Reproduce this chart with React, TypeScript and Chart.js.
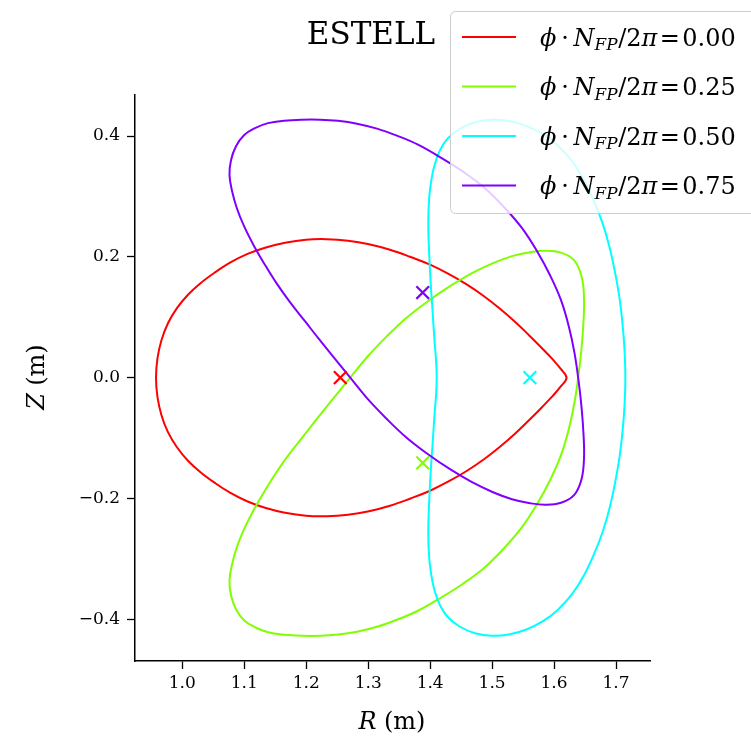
import { useEffect, useRef } from "react";
import { Chart, registerables } from "chart.js";

Chart.register(...registerables);

// Boundary cross-sections of ESTELL at four toroidal angles (R, Z in metres)
const PHASE_LABELS = ["0.00", "0.25", "0.50", "0.75"];
const PHASE_COLORS = ["#ff0000", "#80ff00", "#00ffff", "#8000ff"];

// ϕ·N_FP/2π = 0.00 (up-down symmetric, pointed on the outboard side)
const R_000 = [0.9576, 0.96, 0.9664, 0.9769, 0.9914, 1.0092, 1.0294, 1.052, 1.077, 1.1044, 1.1335, 1.1658, 1.1996, 1.2335,
  1.2674, 1.3013, 1.3352, 1.3674, 1.3998, 1.4304, 1.4595, 1.4869, 1.5127, 1.5369, 1.5595, 1.5805, 1.5982, 1.6111, 1.6201,
  1.6111, 1.5982, 1.5805, 1.5595, 1.5369, 1.5127, 1.4869, 1.4595, 1.4304, 1.3998, 1.3674, 1.3352, 1.3013, 1.2674, 1.2335,
  1.1996, 1.1658, 1.1335, 1.1044, 1.077, 1.052, 1.0294, 1.0092, 0.9914, 0.9769, 0.9664, 0.96];
const Z_000 = [0.0, 0.0323, 0.0621, 0.0902, 0.1151, 0.1374, 0.1565, 0.1738, 0.1904, 0.2045, 0.2152, 0.2235, 0.2285, 0.2293,
  0.2268, 0.221, 0.2119, 0.2003, 0.1871, 0.1714, 0.154, 0.1349, 0.1142, 0.0927, 0.0704, 0.0488, 0.0298, 0.0141, 0.0,
  -0.0141, -0.0298, -0.0488, -0.0704, -0.0927, -0.1142, -0.1349, -0.154, -0.1714, -0.1871, -0.2003, -0.2119, -0.221, -0.2268, -0.2293,
  -0.2285, -0.2235, -0.2152, -0.2045, -0.1904, -0.1738, -0.1565, -0.1374, -0.1151, -0.0902, -0.0621, -0.0323];

// ϕ·N_FP/2π = 0.25
const R_025 = [1.0762, 1.0786, 1.0867, 1.0996, 1.1173, 1.1383, 1.1641, 1.1932, 1.2222, 1.2513, 1.2819, 1.3142, 1.3464,
  1.3804, 1.4159, 1.453, 1.4885, 1.5208, 1.5483, 1.5725, 1.5935, 1.6112, 1.6241, 1.633, 1.6394, 1.6443, 1.6475, 1.6483,
  1.6443, 1.6322, 1.6112, 1.587, 1.5612, 1.5321, 1.5015, 1.4676, 1.4321, 1.3966, 1.3611, 1.3288, 1.2981, 1.2691, 1.2448,
  1.2214, 1.198, 1.1738, 1.152, 1.1328, 1.1151, 1.0997, 1.0881, 1.0804];
const Z_025 = [-0.3353, -0.3601, -0.3833, -0.4015, -0.4131, -0.4214, -0.4255, -0.4272, -0.4272, -0.4252, -0.4205, -0.4123, -0.4007,
  -0.3858, -0.3651, -0.3411, -0.3137, -0.2806, -0.2475, -0.2094, -0.1697, -0.1283, -0.0836, -0.0406, 0.0041, 0.0488, 0.0935, 0.1333,
  0.168, 0.1945, 0.207, 0.2103, 0.2078, 0.2012, 0.1896, 0.173, 0.1515, 0.1267, 0.0985, 0.0671, 0.0339, -0.0025, -0.0331,
  -0.0629, -0.0935, -0.125, -0.1565, -0.1879, -0.2194, -0.2508, -0.2806, -0.3088];

// ϕ·N_FP/2π = 0.50 (bean shape, up-down symmetric)
const R_050 = [1.4998, 1.4724, 1.4482, 1.4288, 1.4159, 1.407, 1.4014, 1.3982, 1.397, 1.3982, 1.4006, 1.4038, 1.407, 1.4095, 1.4106,
  1.4095, 1.407, 1.4038, 1.4006, 1.3982, 1.397, 1.3982, 1.4014, 1.407, 1.4159, 1.4288, 1.4482, 1.4724, 1.4998,
  1.5289, 1.5563, 1.5821, 1.6063, 1.6289, 1.6483, 1.6644, 1.6782, 1.6895, 1.6983, 1.7056, 1.7105, 1.7137, 1.715,
  1.7137, 1.7105, 1.7056, 1.6983, 1.6895, 1.6782, 1.6644, 1.6483, 1.6289, 1.6063, 1.5821, 1.5563, 1.5289];
const Z_050 = [0.4272, 0.423, 0.4123, 0.3965, 0.3767, 0.3518, 0.3237, 0.2939, 0.2558, 0.2111, 0.1614, 0.1118, 0.0621, 0.029, 0.0,
  -0.029, -0.0621, -0.1118, -0.1614, -0.2111, -0.2558, -0.2939, -0.3237, -0.3518, -0.3767, -0.3965, -0.4123, -0.423, -0.4272,
  -0.4247, -0.4164, -0.4031, -0.3841, -0.3584, -0.327, -0.2922, -0.2558, -0.2161, -0.1747, -0.1316, -0.0886, -0.0455, 0.0,
  0.0455, 0.0886, 0.1316, 0.1747, 0.2161, 0.2558, 0.2922, 0.327, 0.3584, 0.3841, 0.4031, 0.4164, 0.4247];

// ϕ·N_FP/2π = 0.75
const R_075 = [1.0762, 1.0786, 1.0867, 1.0996, 1.1173, 1.1383, 1.1641, 1.1932, 1.2222, 1.2513, 1.2819, 1.3142, 1.3464,
  1.3804, 1.4159, 1.453, 1.4885, 1.5208, 1.5483, 1.5725, 1.5935, 1.6112, 1.6241, 1.633, 1.6394, 1.6443, 1.6475, 1.6483,
  1.6443, 1.6322, 1.6112, 1.587, 1.5612, 1.5321, 1.5015, 1.4676, 1.4321, 1.3966, 1.3611, 1.3288, 1.2981, 1.2691, 1.2448,
  1.2214, 1.198, 1.1738, 1.152, 1.1328, 1.1151, 1.0997, 1.0881, 1.0804];
const Z_075 = [0.3353, 0.3601, 0.3833, 0.4015, 0.4131, 0.4214, 0.4255, 0.4272, 0.4272, 0.4252, 0.4205, 0.4123, 0.4007,
  0.3858, 0.3651, 0.3411, 0.3137, 0.2806, 0.2475, 0.2094, 0.1697, 0.1283, 0.0836, 0.0406, -0.0041, -0.0488, -0.0935, -0.1333,
  -0.168, -0.1945, -0.207, -0.2103, -0.2078, -0.2012, -0.1896, -0.173, -0.1515, -0.1267, -0.0985, -0.0671, -0.0339, 0.0025, 0.0331,
  0.0629, 0.0935, 0.125, 0.1565, 0.1879, 0.2194, 0.2508, 0.2806, 0.3088];

// Magnetic axis position at each angle
const AXIS_R = [1.255, 1.388, 1.561, 1.388];
const AXIS_Z = [0.0, -0.141, 0.0, 0.141];

const R_TICKS = [1.0, 1.1, 1.2, 1.3, 1.4, 1.5, 1.6, 1.7];
const Z_TICKS = [-0.4, -0.2, 0.0, 0.2, 0.4];
const R_LIMITS = [0.9237, 1.7548];
const Z_LIMITS = [-0.469, 0.468];

const SECTIONS_R = [R_000, R_025, R_050, R_075];
const SECTIONS_Z = [Z_000, Z_025, Z_050, Z_075];

const SERIF = '"DejaVu Serif", serif';
const W = 751;
const H = 739;

type Run = { text: string; italic?: boolean; scale?: number; drop?: number; gap?: number };

function fontFor(r: Run, size: number) {
  return `${r.italic ? "italic " : ""}${size * (r.scale ?? 1)}px ${SERIF}`;
}

function runsWidth(ctx: CanvasRenderingContext2D, runs: Run[], size: number) {
  let w = 0;
  for (const r of runs) {
    w += (r.gap ?? 0) * size;
    ctx.font = fontFor(r, size);
    w += ctx.measureText(r.text).width;
  }
  return w;
}

function drawRuns(ctx: CanvasRenderingContext2D, runs: Run[], x: number, y: number, size: number) {
  let cx = x;
  for (const r of runs) {
    cx += (r.gap ?? 0) * size;
    ctx.font = fontFor(r, size);
    ctx.fillText(r.text, cx, y + (r.drop ?? 0) * size);
    cx += ctx.measureText(r.text).width;
  }
}

const phaseRuns = (label: string): Run[] => [
  { text: "\u03d5", italic: true },
  { text: "·", gap: 0.2 },
  { text: "N", italic: true, gap: 0.2 },
  { text: "FP", italic: true, scale: 0.7, drop: 0.2 },
  { text: "/2", gap: 0.03 },
  { text: "π", italic: true },
  { text: "=", gap: 0.1 },
  { text: label, gap: 0.1 },
];

// Closed contour: pad with wrap-around points so the spline is smooth at the seam
function closedContour(rs: number[], zs: number[]) {
  const n = rs.length;
  const order = [n - 1, ...rs.map((_, i) => i), 0, 1];
  return order.map((i) => ({ x: rs[i], y: zs[i] }));
}

const fmt = (v: number) => v.toFixed(1).replace("-", "\u2212");

const decorations = {
  id: "decorations",
  afterDraw(chart: Chart) {
    const ctx = chart.ctx;
    ctx.save();
    ctx.fillStyle = "#000";

    // title
    ctx.font = `31px ${SERIF}`;
    ctx.textAlign = "center";
    ctx.textBaseline = "middle";
    ctx.fillText("ESTELL", 371, 36);

    // axis titles
    ctx.textAlign = "left";
    const axSize = 24;
    const rRuns: Run[] = [{ text: "R", italic: true }, { text: "(m)", gap: 0.3 }];
    const rw = runsWidth(ctx, rRuns, axSize);
    drawRuns(ctx, rRuns, 392 - rw / 2, 723, axSize);

    const zRuns: Run[] = [{ text: "Z", italic: true }, { text: "(m)", gap: 0.3 }];
    const zw = runsWidth(ctx, zRuns, axSize);
    ctx.save();
    ctx.translate(38, 377);
    ctx.rotate(-Math.PI / 2);
    drawRuns(ctx, zRuns, -zw / 2, 0, axSize);
    ctx.restore();

    // legend
    ctx.beginPath();
    ctx.roundRect(450.5, 11.5, 330, 202, 5);
    ctx.fillStyle = "rgba(255,255,255,0.8)";
    ctx.fill();
    ctx.strokeStyle = "#cccccc";
    ctx.lineWidth = 1;
    ctx.stroke();

    const legSize = 24;
    ctx.textBaseline = "alphabetic";
    PHASE_LABELS.forEach((label, i) => {
      const y = 37 + i * 49.5;
      ctx.strokeStyle = PHASE_COLORS[i];
      ctx.lineWidth = 2;
      ctx.beginPath();
      ctx.moveTo(462, y);
      ctx.lineTo(516, y);
      ctx.stroke();
      ctx.fillStyle = "#000";
      drawRuns(ctx, phaseRuns(label), 540, y + 8.5, legSize);
    });
    ctx.restore();
  },
};

export default function App() {
  const canvasRef = useRef<HTMLCanvasElement | null>(null);

  useEffect(() => {
    const canvas = canvasRef.current;
    if (!canvas) return;

    const contours = SECTIONS_R.map((rs, i) => {
      const data = closedContour(rs, SECTIONS_Z[i]);
      const last = data.length - 1;
      return {
        label: PHASE_LABELS[i],
        data,
        showLine: true,
        borderColor: PHASE_COLORS[i],
        borderWidth: 2,
        tension: 0.4,
        pointRadius: 0,
        pointHoverRadius: 0,
        fill: false,
        order: 4 - i,
        segment: {
          borderColor: (c: any) =>
            c.p0DataIndex === 0 || c.p1DataIndex === last ? "rgba(0,0,0,0)" : undefined,
        },
      };
    });

    const axes = {
      label: "axis",
      data: AXIS_R.map((r, i) => ({ x: r, y: AXIS_Z[i] })),
      showLine: false,
      pointStyle: "crossRot",
      pointRadius: 9,
      pointHoverRadius: 9,
      pointBorderWidth: 2.2,
      pointBorderColor: PHASE_COLORS,
      pointBackgroundColor: PHASE_COLORS,
      order: 0,
    };

    const tickFont = { family: SERIF, size: 17 };

    const chart = new Chart(canvas, {
      type: "scatter",
      data: { datasets: [...contours, axes] as any },
      options: {
        responsive: false,
        animation: false,
        devicePixelRatio: 1,
        layout: { padding: { top: 95, right: 101, left: 0, bottom: 0 } },
        plugins: { legend: { display: false }, title: { display: false }, tooltip: { enabled: false } },
        events: [],
        scales: {
          x: {
            type: "linear",
            min: R_LIMITS[0],
            max: R_LIMITS[1],
            afterBuildTicks: (s: any) => {
              s.ticks = R_TICKS.map((v) => ({ value: v }));
            },
            afterFit: (s: any) => {
              s.height = 78;
            },
            grid: { display: true, drawOnChartArea: false, drawTicks: true, tickLength: 8, tickWidth: 1.3, tickColor: "#000", color: "#000" },
            border: { display: true, color: "#000", width: 1.5 },
            ticks: { font: tickFont, color: "#000", padding: 4, maxRotation: 0, autoSkip: false, callback: (v: any) => fmt(Number(v)) },
          },
          y: {
            type: "linear",
            min: Z_LIMITS[0],
            max: Z_LIMITS[1],
            afterBuildTicks: (s: any) => {
              s.ticks = Z_TICKS.map((v) => ({ value: v }));
            },
            afterFit: (s: any) => {
              s.width = 135;
            },
            grid: { display: true, drawOnChartArea: false, drawTicks: true, tickLength: 8, tickWidth: 1.3, tickColor: "#000", color: "#000" },
            border: { display: true, color: "#000", width: 1.5 },
            ticks: { font: tickFont, color: "#000", padding: 7, autoSkip: false, callback: (v: any) => fmt(Number(v)) },
          },
        },
      },
      plugins: [decorations],
    });

    let alive = true;
    Promise.all([
      document.fonts.load(`17px ${SERIF}`),
      document.fonts.load(`italic 24px ${SERIF}`),
    ]).then(() => {
      if (alive) chart.update();
    });

    return () => {
      alive = false;
      chart.destroy();
    };
  }, []);

  return (
    <div style={{ position: "fixed", left: 0, top: 0, width: W, height: H, background: "#fff" }}>
      <canvas ref={canvasRef} width={W} height={H} style={{ width: W, height: H, display: "block" }} />
    </div>
  );
}
